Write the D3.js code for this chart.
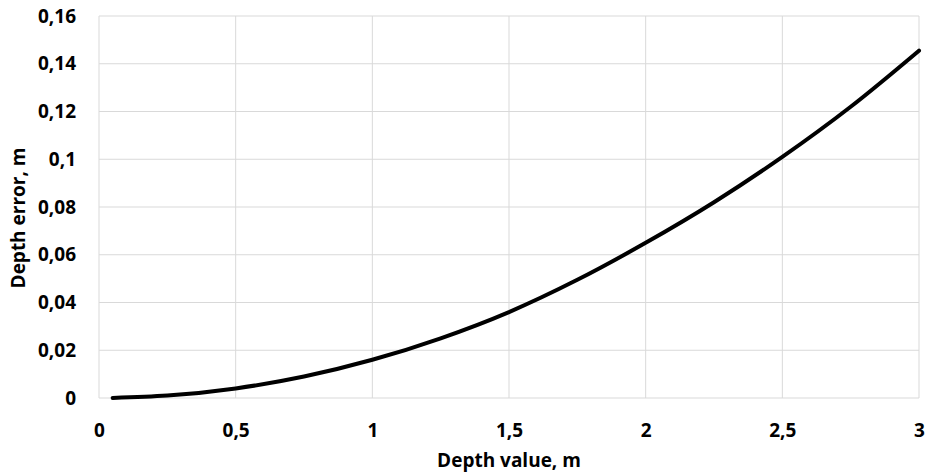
<!DOCTYPE html>
<html><head><meta charset="utf-8">
<script src="https://cdn.jsdelivr.net/npm/d3@7"></script>
<style>body{margin:0;background:#fff}svg{display:block}text{font-family:"Open Sans",Lato,sans-serif;font-weight:bold;fill:#000}</style>
</head><body>
<svg id="c" width="929" height="474"></svg>
<script>
const depthValues = [0.05, 0.25, 0.5, 0.75, 1, 1.25, 1.5, 1.75, 2, 2.25, 2.5, 2.75, 3];
const depthErrors = [0.00004, 0.001, 0.004, 0.009, 0.016, 0.025, 0.036, 0.0495, 0.065, 0.082, 0.101, 0.122, 0.1455];
const xTicks = [0, 0.5, 1, 1.5, 2, 2.5, 3];
const yTicks = [0, 0.02, 0.04, 0.06, 0.08, 0.1, 0.12, 0.14, 0.16];
const xTitle = "Depth value, m";
const yTitle = "Depth error, m";

const svg = d3.select("#c");
const L = 99, R = 919, T = 16, B = 398;
const x = d3.scaleLinear().domain([0, 3]).range([L, R]);
const y = d3.scaleLinear().domain([0, 0.16]).range([B, T]);
const fmt = d => String(d).replace(".", ",");
const FONT = "'Open Sans', Lato, sans-serif";

// gridlines
svg.append("g").selectAll("line").data(yTicks).join("line")
  .attr("x1", L).attr("x2", R).attr("y1", d => y(d)).attr("y2", d => y(d))
  .attr("stroke", "#d9d9d9").attr("stroke-width", 1);
svg.append("g").selectAll("line").data(xTicks).join("line")
  .attr("y1", T).attr("y2", B).attr("x1", d => x(d)).attr("x2", d => x(d))
  .attr("stroke", "#d9d9d9").attr("stroke-width", 1);

// axes labels
const ya = svg.append("g").attr("transform", `translate(${L},0)`)
  .call(d3.axisLeft(y).tickValues(yTicks).tickFormat(fmt).tickSize(0).tickPadding(23));
ya.select(".domain").remove();
ya.selectAll("text").style("font-size", "19px").style("font-family", FONT).attr("font-weight", "bold").attr("fill", "#000");

const xa = svg.append("g").attr("transform", `translate(0,${B})`)
  .call(d3.axisBottom(x).tickValues(xTicks).tickFormat(fmt).tickSize(0).tickPadding(26));
xa.select(".domain").remove();
xa.selectAll("text").style("font-size", "19px").style("font-family", FONT).attr("font-weight", "bold").attr("fill", "#000");

// line
const pts = depthValues.map((d, i) => [d, depthErrors[i]]);
svg.append("path").datum(pts)
  .attr("d", d3.line().x(d => x(d[0])).y(d => y(d[1])).curve(d3.curveMonotoneX))
  .attr("fill", "none").attr("stroke", "#000").attr("stroke-width", 4).attr("stroke-linecap", "round");

// titles
svg.append("text").attr("x", 509).attr("y", 467).attr("text-anchor", "middle")
  .style("font-size", "19px").text(xTitle);
svg.append("text").attr("transform", `translate(25,218) rotate(-90)`).attr("text-anchor", "middle")
  .style("font-size", "19px").text(yTitle);
</script>
</body></html>
